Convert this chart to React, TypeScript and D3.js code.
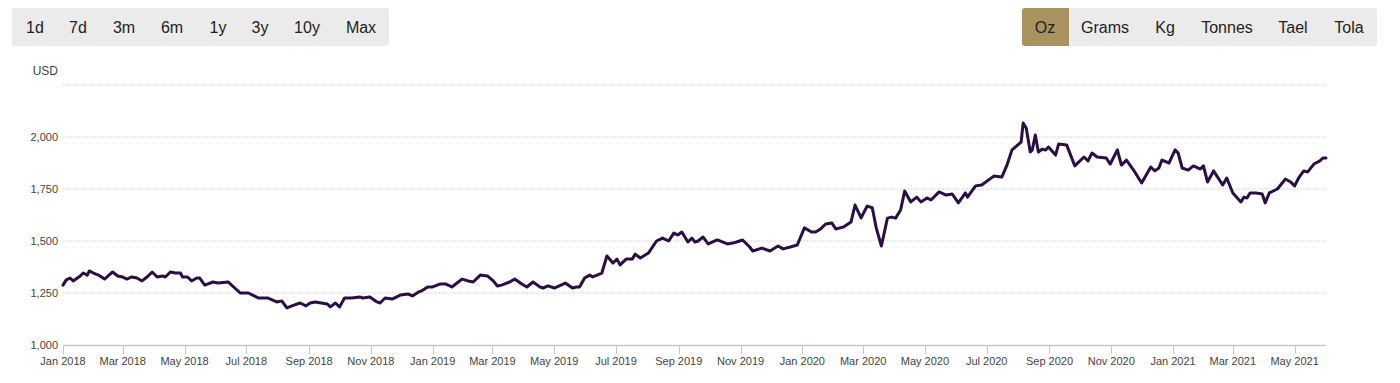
import React from "react";
import * as d3 from "d3";

const rangeButtons = ["1d", "7d", "3m", "6m", "1y", "3y", "10y", "Max"];
const unitButtons = ["Oz", "Grams", "Kg", "Tonnes", "Tael", "Tola"];
const yTicks = [1000, 1250, 1500, 1750, 2000, 2250];

const dates = [
  "2018-01-01","2018-01-04","2018-01-08","2018-01-11","2018-01-18","2018-01-21","2018-01-25","2018-01-27","2018-01-31","2018-02-05",
  "2018-02-11","2018-02-19","2018-02-24","2018-03-01","2018-03-05","2018-03-10","2018-03-15","2018-03-20","2018-03-25","2018-03-30",
  "2018-04-04","2018-04-09","2018-04-12","2018-04-17","2018-04-22","2018-04-27","2018-04-29","2018-05-04","2018-05-08","2018-05-13",
  "2018-05-16","2018-05-21","2018-05-29","2018-06-03","2018-06-13","2018-06-25","2018-07-03","2018-07-13","2018-07-22","2018-07-31",
  "2018-08-05","2018-08-10","2018-08-15","2018-08-23","2018-08-29","2018-09-02","2018-09-07","2018-09-19","2018-09-22","2018-09-27",
  "2018-10-01","2018-10-06","2018-10-13","2018-10-21","2018-10-24","2018-10-31","2018-11-07","2018-11-10","2018-11-15","2018-11-22",
  "2018-11-30","2018-12-08","2018-12-12","2018-12-18","2018-12-21","2018-12-27","2019-01-01","2019-01-08","2019-01-14","2019-01-20",
  "2019-01-25","2019-01-30","2019-02-05","2019-02-10","2019-02-17","2019-02-24","2019-03-01","2019-03-06","2019-03-10","2019-03-18",
  "2019-03-23","2019-03-30","2019-04-04","2019-04-10","2019-04-17","2019-04-20","2019-04-25","2019-05-01","2019-05-12","2019-05-19",
  "2019-05-23","2019-05-26","2019-05-31","2019-06-05","2019-06-08","2019-06-17","2019-06-22","2019-06-28","2019-07-02","2019-07-05",
  "2019-07-11","2019-07-17","2019-07-20","2019-07-25","2019-08-02","2019-08-10","2019-08-16","2019-08-22","2019-08-27","2019-08-31",
  "2019-09-04","2019-09-10","2019-09-14","2019-09-17","2019-09-20","2019-09-25","2019-09-30","2019-10-09","2019-10-19","2019-10-24",
  "2019-10-28","2019-11-03","2019-11-10","2019-11-13","2019-11-22","2019-11-30","2019-12-08","2019-12-13","2019-12-20","2019-12-27",
  "2020-01-03","2020-01-10","2020-01-14","2020-01-19","2020-01-24","2020-01-30","2020-02-03","2020-02-11","2020-02-18","2020-02-22",
  "2020-02-28","2020-03-05","2020-03-10","2020-03-14","2020-03-19","2020-03-25","2020-03-29","2020-04-02","2020-04-07","2020-04-11",
  "2020-04-17","2020-04-23","2020-04-27","2020-05-03","2020-05-07","2020-05-15","2020-05-22","2020-05-28","2020-06-03","2020-06-10",
  "2020-06-12","2020-06-20","2020-06-26","2020-07-08","2020-07-16","2020-07-21","2020-07-26","2020-08-04","2020-08-06","2020-08-09",
  "2020-08-13","2020-08-15","2020-08-18","2020-08-21","2020-08-25","2020-08-28","2020-08-31","2020-09-07","2020-09-10","2020-09-18",
  "2020-09-26","2020-10-05","2020-10-09","2020-10-13","2020-10-18","2020-10-27","2020-10-31","2020-11-07","2020-11-11","2020-11-16",
  "2020-11-23","2020-12-01","2020-12-10","2020-12-14","2020-12-18","2020-12-21","2020-12-28","2021-01-03","2021-01-06","2021-01-10",
  "2021-01-16","2021-01-21","2021-01-28","2021-01-31","2021-02-04","2021-02-10","2021-02-19","2021-02-23","2021-03-01","2021-03-09",
  "2021-03-12","2021-03-15","2021-03-18","2021-03-24","2021-03-30","2021-04-02","2021-04-06","2021-04-14","2021-04-22","2021-04-27",
  "2021-05-01","2021-05-05","2021-05-10","2021-05-14","2021-05-20","2021-05-26","2021-05-29","2021-06-01",
];

const prices = [
  1288,1312,1322,1308,1332,1346,1336,1356,1346,1336,
  1317,1351,1332,1327,1317,1327,1322,1308,1327,1351,
  1327,1332,1327,1351,1346,1346,1327,1327,1308,1322,
  1322,1288,1303,1298,1303,1250,1250,1226,1226,1207,
  1212,1178,1188,1202,1188,1202,1207,1197,1183,1202,
  1183,1226,1226,1231,1226,1231,1207,1202,1226,1221,
  1240,1245,1236,1255,1260,1279,1279,1293,1293,1279,
  1298,1317,1308,1303,1336,1332,1312,1284,1288,1303,
  1317,1293,1279,1303,1279,1274,1284,1274,1298,1274,
  1279,1279,1322,1336,1327,1346,1428,1394,1413,1385,
  1413,1413,1437,1418,1442,1500,1514,1500,1538,1529,
  1543,1495,1514,1495,1500,1519,1486,1505,1486,1490,
  1495,1505,1471,1452,1466,1452,1476,1462,1471,1481,
  1563,1543,1543,1558,1582,1587,1558,1568,1591,1673,
  1611,1668,1660,1562,1476,1610,1615,1610,1649,1740,
  1688,1711,1688,1707,1697,1736,1721,1726,1683,1731,
  1711,1765,1769,1812,1808,1865,1938,1976,2067,2043,
  1928,1938,2010,1928,1942,1937,1952,1913,1966,1961,
  1861,1904,1885,1923,1904,1899,1870,1938,1865,1889,
  1841,1779,1856,1837,1851,1889,1875,1938,1923,1851,
  1841,1861,1846,1861,1784,1837,1769,1803,1731,1688,
  1711,1707,1731,1731,1726,1683,1731,1750,1798,1784,
  1765,1803,1837,1832,1870,1885,1899,1899,
];

const W = 1400;
const H = 383;
const FONT = "'Liberation Sans', Arial, Helvetica, sans-serif";

export default function App() {
  const parse = d3.timeParse("%Y-%m-%d");
  const data = dates.map((d, i) => ({ date: parse(d) as Date, value: prices[i] }));

  const x = d3
    .scaleTime()
    .domain([parse("2018-01-01") as Date, parse("2021-06-01") as Date])
    .range([63, 1326]);
  const y = d3.scaleLinear().domain([1000, 2250]).range([345, 85]);

  const line = d3
    .line<{ date: Date; value: number }>()
    .x((d) => x(d.date))
    .y((d) => y(d.value))
    .curve(d3.curveLinear);

  const xTicks = x.ticks(d3.timeMonth.every(2) as any);
  const fmtX = d3.timeFormat("%b %Y");
  const fmtY = d3.format(",");

  const leftCenters = [35, 78, 124, 172, 218, 260, 307, 361];
  const rightCenters = [1045, 1105, 1165, 1227, 1293, 1349];

  return (
    <svg
      width={W}
      height={H}
      style={{ position: "absolute", left: 0, top: 0, background: "#fff" }}
      fontFamily={FONT}
    >
      {/* range buttons */}
      <rect x={12} y={8} width={377} height={38} rx={3} fill="#ebebeb" />
      {rangeButtons.map((b, i) => (
        <text
          key={b}
          x={leftCenters[i]}
          y={27}
          textAnchor="middle"
          dominantBaseline="central"
          fontSize={16}
          fill="#222"
        >
          {b}
        </text>
      ))}

      {/* unit buttons */}
      <rect x={1022} y={8} width={355} height={38} rx={3} fill="#ebebeb" />
      <path d="M1025,8 H1069 V46 H1025 A3,3 0 0 1 1022,43 V11 A3,3 0 0 1 1025,8 Z" fill="#a8925f" />
      {unitButtons.map((b, i) => (
        <text
          key={b}
          x={rightCenters[i]}
          y={27}
          textAnchor="middle"
          dominantBaseline="central"
          fontSize={16}
          fill="#222"
        >
          {b}
        </text>
      ))}

      {/* USD label */}
      <text x={58} y={75} textAnchor="end" fontSize={12} fill="#444">
        USD
      </text>

      {/* grid lines */}
      {yTicks.slice(1).map((t) => (
        <line
          key={t}
          x1={63}
          x2={1326}
          y1={y(t)}
          y2={y(t)}
          stroke="#cfcfcf"
          strokeWidth={1}
          strokeDasharray="1 1"
        />
      ))}

      {/* y labels */}
      {yTicks.slice(0, -1).map((t) => (
        <text key={t} x={58} y={y(t) + 4} textAnchor="end" fontSize={11} fill="#444">
          {fmtY(t)}
        </text>
      ))}

      {/* x axis */}
      <line x1={63} x2={1326} y1={345.5} y2={345.5} stroke="#c4c8d0" strokeWidth={1.5} />
      {xTicks.map((t) => (
        <g key={t.toISOString()}>
          <line
            x1={Math.round(x(t)) + 0.5}
            x2={Math.round(x(t)) + 0.5}
            y1={345}
            y2={354}
            stroke="#c4c8d0"
            strokeWidth={1}
          />
          <text x={x(t)} y={365} textAnchor="middle" fontSize={11} fill="#444">
            {fmtX(t)}
          </text>
        </g>
      ))}

      {/* price line */}
      <path
        d={line(data) || ""}
        fill="none"
        stroke="#2a1042"
        strokeWidth={3}
        strokeLinejoin="round"
        strokeLinecap="round"
      />
    </svg>
  );
}
